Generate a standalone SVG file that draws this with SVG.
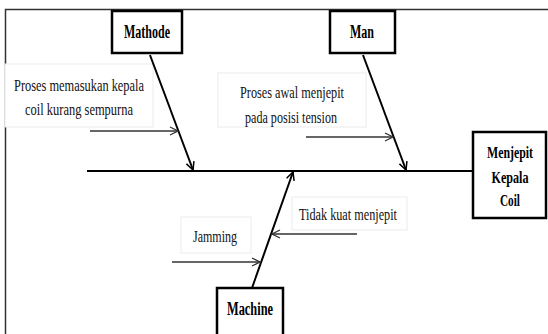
<svg xmlns="http://www.w3.org/2000/svg" width="548" height="334" viewBox="0 0 548 334">
<style>
.box{fill:#fff;stroke:#000;stroke-width:2.5}
.faint{fill:#fff;stroke:#ebebeb;stroke-width:1}
.bone{stroke:#000;stroke-width:2;fill:none}
.sub{stroke:#333;stroke-width:1.5;fill:none}
.t{font-family:"Liberation Serif","Times New Roman",serif;font-size:17px;fill:#111}
.b{font-family:"Liberation Serif","Times New Roman",serif;font-size:18px;font-weight:bold;fill:#000}
.e{font-size:16px}
</style>
<defs>
<marker id="ah" markerWidth="10" markerHeight="10" refX="9" refY="5" orient="auto" markerUnits="userSpaceOnUse">
<path d="M1,1 L9,5 L1,9" fill="none" stroke="#000" stroke-width="1.5"/>
</marker>
<marker id="ahs" markerWidth="10" markerHeight="10" refX="9" refY="5" orient="auto" markerUnits="userSpaceOnUse">
<path d="M1,1 L9,5 L1,9" fill="none" stroke="#333" stroke-width="1.3"/>
</marker>
</defs>
<rect width="548" height="334" fill="#fff"/>
<path d="M5.5,334 V9.5 H548" fill="none" stroke="#333" stroke-width="1.5"/>
<g id="label-boxes">
<rect class="faint" x="5" y="64" width="148" height="63"/>
<rect class="faint" x="218" y="73" width="148" height="54"/>
<rect class="faint" x="181" y="217" width="70" height="36"/>
<rect class="faint" x="292" y="197" width="115" height="33"/>
</g>
<g id="connectors">
<line class="bone" x1="87" y1="171" x2="474" y2="171"/>
<line class="bone" x1="150" y1="55" x2="193" y2="170" marker-end="url(#ah)"/>
<line class="bone" x1="363" y1="55" x2="406" y2="170" marker-end="url(#ah)"/>
<line class="bone" x1="252" y1="288" x2="293" y2="172" marker-end="url(#ah)"/>
<line class="sub" x1="90" y1="131" x2="178" y2="131" marker-end="url(#ahs)"/>
<line class="sub" x1="306" y1="137" x2="393" y2="137" marker-end="url(#ahs)"/>
<line class="sub" x1="172" y1="262" x2="260" y2="262" marker-end="url(#ahs)"/>
<line class="sub" x1="357" y1="234" x2="272" y2="234" marker-end="url(#ahs)"/>
</g>
<g id="mathode">
<rect class="box" x="112" y="11" width="70" height="42"/>
<text class="b" x="147" y="38" text-anchor="middle" textLength="46" lengthAdjust="spacingAndGlyphs">Mathode</text>
</g>
<g id="man">
<rect class="box" x="330" y="11" width="65" height="42"/>
<text class="b" x="362" y="38" text-anchor="middle" textLength="24" lengthAdjust="spacingAndGlyphs">Man</text>
</g>
<g id="machine">
<rect class="box" x="217" y="288" width="66" height="50"/>
<text class="b" x="250" y="315" text-anchor="middle" textLength="46" lengthAdjust="spacingAndGlyphs">Machine</text>
</g>
<g id="effect">
<rect class="box" x="473" y="132" width="73" height="86"/>
<text class="b e" x="510" y="158" text-anchor="middle" textLength="46" lengthAdjust="spacingAndGlyphs">Menjepit</text>
<text class="b e" x="510" y="183" text-anchor="middle" textLength="37" lengthAdjust="spacingAndGlyphs">Kepala</text>
<text class="b e" x="510" y="206" text-anchor="middle" textLength="20" lengthAdjust="spacingAndGlyphs">Coil</text>
</g>
<g id="cause-mathode">
<text class="t" x="79" y="91" text-anchor="middle" textLength="130" lengthAdjust="spacingAndGlyphs">Proses memasukan kepala</text>
<text class="t" x="79" y="115" text-anchor="middle" textLength="108" lengthAdjust="spacingAndGlyphs">coil kurang sempurna</text>
</g>
<g id="cause-man">
<text class="t" x="292" y="98" text-anchor="middle" textLength="104" lengthAdjust="spacingAndGlyphs">Proses awal menjepit</text>
<text class="t" x="291" y="123" text-anchor="middle" textLength="92" lengthAdjust="spacingAndGlyphs">pada posisi tension</text>
</g>
<g id="cause-machine">
<text class="t" x="215" y="242" text-anchor="middle" textLength="44" lengthAdjust="spacingAndGlyphs">Jamming</text>
<text class="t" x="348" y="220" text-anchor="middle" textLength="98" lengthAdjust="spacingAndGlyphs">Tidak kuat menjepit</text>
</g>
</svg>
